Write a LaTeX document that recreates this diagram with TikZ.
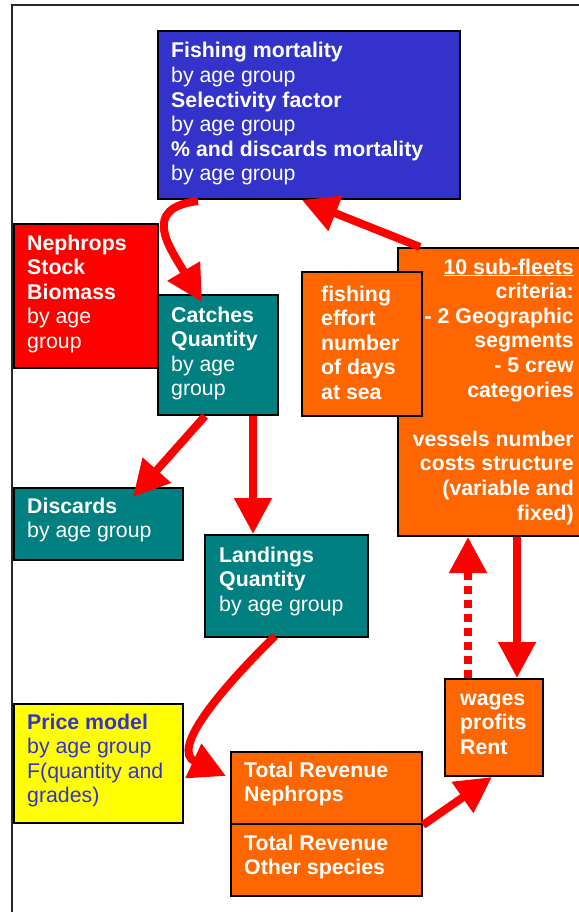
\documentclass[tikz,border=0pt]{standalone}
\usepackage{fontspec}
\setmainfont{Liberation Sans}
\usetikzlibrary{arrows.meta,calc}
\definecolor{fblue}{HTML}{3333CC}
\definecolor{fred}{HTML}{FF0000}
\definecolor{fteal}{HTML}{008080}
\definecolor{forange}{HTML}{FF6600}
\definecolor{fyellow}{HTML}{FFFF00}
\definecolor{arrowred}{HTML}{FF0000}
\begin{document}
\begin{tikzpicture}[x=1pt,y=-1pt,
  box/.style={draw=black, line width=2pt, inner sep=0pt, anchor=north west},
  txt/.style={inner sep=0pt, font=\fontsize{21.3}{24.6}\selectfont, text=white},
  arr/.style={draw=arrowred, line width=8pt, -{Triangle[length=36pt,width=36pt]}},
  darr/.style={arr, dash pattern=on 8pt off 6pt}
]
\useasboundingbox (0,0) rectangle (578,912);
\fill[white] (0,0) rectangle (578,912);
% frame
\draw[line width=1.5pt, black!85] (12,912) -- (12,5) -- (580,5);

% boxes
\node[box, fill=fblue, minimum width=302pt, minimum height=168pt] (blue) at (157,30) {};
\node[box, fill=fred, minimum width=144pt, minimum height=144pt] (stock) at (13,223) {};
\node[box, fill=fteal, minimum width=120pt, minimum height=120pt] (catch) at (157,294) {};
\node[box, fill=forange, minimum width=186pt, minimum height=288pt] (fleet) at (397,247) {};
\node[box, fill=forange, minimum width=120pt, minimum height=144pt] (effort) at (301,271) {};
\node[box, fill=fteal, minimum width=169pt, minimum height=72pt] (disc) at (13,487) {};
\node[box, fill=fteal, minimum width=163pt, minimum height=102pt] (land) at (204,534) {};
\node[box, fill=fyellow, minimum width=169pt, minimum height=119pt] (price) at (13,703) {};
\node[box, fill=forange, minimum width=191pt, minimum height=72pt] (trn) at (230,751) {};
\node[box, fill=forange, minimum width=191pt, minimum height=72pt] (tro) at (230,823) {};
\node[box, fill=forange, minimum width=98pt, minimum height=97pt] (wage) at (444,678) {};

% texts
\node[txt, anchor=base west] (blueT) at (171,58) {\parbox[t]{285pt}{\raggedright
  \textbf{Fishing mortality}\\by age group\\\textbf{Selectivity factor}\\by age group\\\textbf{\% and discards mortality}\\by age group}};
\node[txt, anchor=base west] (stockT) at (27,250) {\parbox[t]{125pt}{\raggedright
  \textbf{Nephrops}\\\textbf{Stock}\\\textbf{Biomass}\\by age\\group}};
\node[txt, anchor=base west] (catchT) at (171,322) {\parbox[t]{105pt}{\raggedright
  \textbf{Catches}\\\textbf{Quantity}\\by age\\group}};
\node[txt, anchor=base west] (effortT) at (321,301) {\parbox[t]{100pt}{\raggedright\bfseries
  fishing\\effort\\number\\of days\\at sea}};
\node[txt, anchor=base east] (fleetT) at (574,274) {\parbox[t]{175pt}{\raggedleft\bfseries
  \underline{10 sub-fleets}\\criteria:\\- 2 Geographic\\segments\\- 5 crew\\categories\\[24.6pt]vessels number\\costs structure\\(variable and\\fixed)}};
\node[txt, anchor=base west] (discT) at (27,513) {\parbox[t]{150pt}{\raggedright
  \textbf{Discards}\\by age group}};
\node[txt, anchor=base west] (landT) at (219,562) {\parbox[t]{145pt}{\raggedright
  \textbf{Landings}\\\textbf{Quantity}\\by age group}};
\node[txt, text=fblue, anchor=base west] (priceT) at (27,729) {\parbox[t]{155pt}{\raggedright
  \textbf{Price model}\\by age group\\F(quantity and\\grades)}};
\node[txt, anchor=base west] (trnT) at (244,777) {\parbox[t]{175pt}{\raggedright\bfseries
  Total Revenue\\Nephrops}};
\node[txt, anchor=base west] (troT) at (244,850) {\parbox[t]{175pt}{\raggedright\bfseries
  Total Revenue\\Other species}};
\node[txt, anchor=base west] (wageT) at (460,705) {\parbox[t]{80pt}{\raggedright\bfseries
  wages\\profits\\Rent}};

% arrows
\draw[arr] ($(blue.south west)+(41,1)$) .. controls (140,208) and (170,248) .. ($(catch.north west)+(45,8)$);
\draw[arr] ($(fleet.north west)+(23,0)$) -- ($(blue.south west)+(145,0)$);
\draw[arr] ($(catch.south west)+(48,0)$) -- ($(disc.north west)+(120,10)$);
\draw[arr] ($(catch.south west)+(96,0)$) -- ($(land.north west)+(49,0)$);
\draw[arr] ($(land.south west)+(71,-2)$) .. controls (220,690) and (170,750) .. ($(trn.north west)+(-4,25)$);
\draw[arr] ($(fleet.south west)+(120,0)$) -- ($(wage.north west)+(73,0)$);
\draw[darr] ($(wage.north west)+(24,0)$) -- ($(fleet.south west)+(71,0)$);
\draw[arr] (trn.south east) -- ($(wage.south west)+(48,0)$);
\end{tikzpicture}
\end{document}
